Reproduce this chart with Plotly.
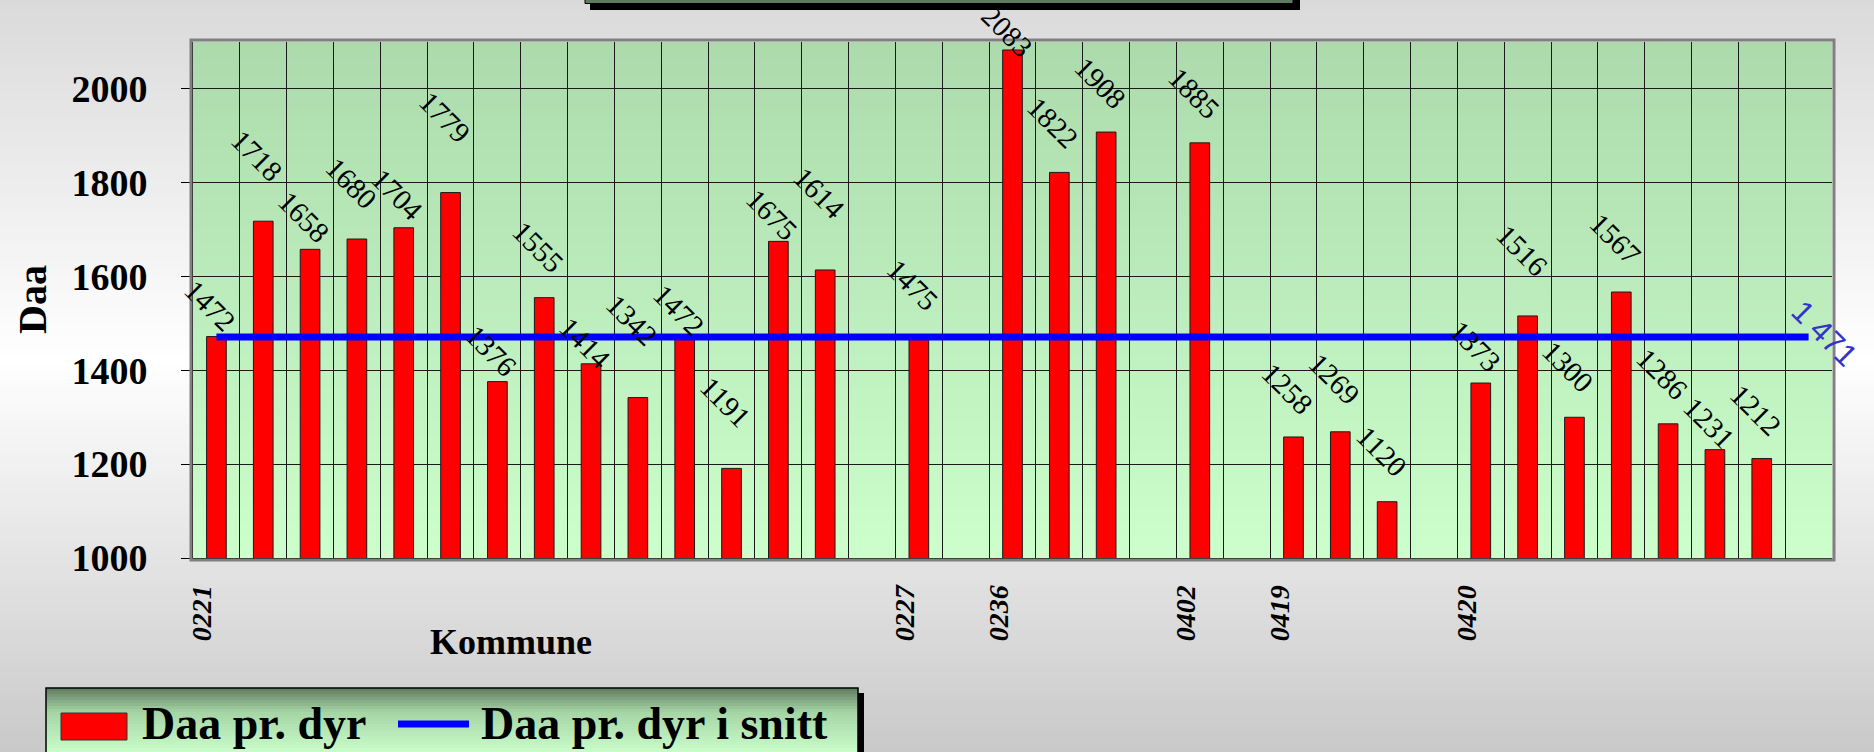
import plotly.graph_objects as go

# ---------------- data ----------------
categories = ["0221", "", "", "", "", "", "", "", "", "", "", "", "", "", "",
              "0227", "", "0236", "", "", "", "0402", "", "0419", "", "", "",
              "0420", "", "", "", "", "", "", ""]
values = [1472, 1718, 1658, 1680, 1704, 1779, 1376, 1555, 1414, 1342, 1472, 1191,
          1675, 1614, None, 1475, None, 2083, 1822, 1908, None, 1885, None, 1258,
          1269, 1120, None, 1373, 1516, 1300, 1567, 1286, 1231, 1212, None]
average_value = 1471
average_text = "1 471"
bar_name = "Daa pr. dyr"
line_name = "Daa pr. dyr i snitt"
y_axis_title = "Daa"
x_axis_title = "Kommune"
y_ticks = [1000, 1200, 1400, 1600, 1800, 2000]

# ---------------- style ----------------
W, H = 1874, 752
L, R, T, B = 193, 1832, 42, 558
SERIF = "Liberation Serif, Times New Roman, serif"
SANS = "Liberation Sans, Arial, sans-serif"
# pixel lift of each value label above its bar (as placed in the original chart)
label_lift_px = [0, 35, 2, 25, 2, 45, 0, 20, -10, 47, -4, 36, -4, 46, 0, 20, 0, -12,
                 19, 18, 0, 19, 0, 17, 22, 20, 0, 6, 35, 20, 22, 19, -4, 18, 0]


def px_x(px):
    return (px - L) / (R - L)


def px_y(py):
    return (B - py) / (B - T)


def color_at(stops, p):
    if p <= stops[0][0]:
        c = stops[0][1]
    elif p >= stops[-1][0]:
        c = stops[-1][1]
    else:
        for (p0, c0), (p1, c1) in zip(stops[:-1], stops[1:]):
            if p0 <= p <= p1:
                t = (p - p0) / (p1 - p0)
                c = tuple(c0[k] + (c1[k] - c0[k]) * t for k in range(3))
                break
    return "rgb(%d,%d,%d)" % tuple(round(v) for v in c)


def bands(xa, xb, ytop, ybot, stops, step):
    out = []
    y = ytop
    while y < ybot:
        y2 = min(y + step, ybot)
        out.append(dict(type="rect", xref="paper", yref="paper",
                        x0=px_x(xa), x1=px_x(xb),
                        y0=px_y(min(y2 + 1, ybot)), y1=px_y(y),
                        fillcolor=color_at(stops, (y + y2) / 2),
                        line=dict(width=0), layer="below"))
        y = y2
    return out


shapes = []
# figure background gradient
shapes += bands(0, W, 0, H, [(0, (218, 218, 218)), (360, (255, 255, 255)),
                             (752, (201, 201, 201))], 6)
# plot-area gradient
shapes += bands(L, R, T, B, [(T, (172, 218, 172)), (B, (204, 255, 204))], 5)

# title box remnant at top (shadow + box)
shapes.append(dict(type="rect", xref="paper", yref="paper", x0=px_x(590), x1=px_x(1300),
                   y0=px_y(10), y1=px_y(-10), fillcolor="#000000", line=dict(width=0),
                   layer="below"))
shapes.append(dict(type="rect", xref="paper", yref="paper", x0=px_x(585), x1=px_x(1293),
                   y0=px_y(3.5), y1=px_y(-10), fillcolor="#5f7c5f",
                   line=dict(color="#000000", width=1), layer="below"))

# legend box: shadow, gradient, border
LG_X0, LG_X1, LG_Y0, LG_Y1 = 46, 858, 688, 770
shapes.append(dict(type="rect", xref="paper", yref="paper", x0=px_x(LG_X0 + 6), x1=px_x(LG_X1 + 6),
                   y0=px_y(LG_Y1 + 6), y1=px_y(LG_Y0 + 5), fillcolor="#000000",
                   line=dict(width=0), layer="below"))
shapes += bands(LG_X0, LG_X1, LG_Y0, LG_Y1, [(688, (96, 124, 96)), (712, (165, 212, 165)),
                                             (752, (202, 252, 202))], 3)
shapes.append(dict(type="rect", xref="paper", yref="paper", x0=px_x(LG_X0), x1=px_x(LG_X1),
                   y0=px_y(LG_Y1), y1=px_y(LG_Y0), fillcolor="rgba(0,0,0,0)",
                   line=dict(color="#000000", width=1.5), layer="above"))
# legend keys
shapes.append(dict(type="rect", xref="paper", yref="paper", x0=px_x(61), x1=px_x(127),
                   y0=px_y(740), y1=px_y(713), fillcolor="#ff0000",
                   line=dict(color="#333333", width=1), layer="above"))
shapes.append(dict(type="line", xref="paper", yref="paper", x0=px_x(398), x1=px_x(469),
                   y0=px_y(724), y1=px_y(724), line=dict(color="#0000ff", width=7),
                   layer="above"))

# plot area border
shapes.append(dict(type="rect", xref="paper", yref="paper", x0=px_x(L - 2), x1=px_x(R + 2),
                   y0=px_y(B + 2), y1=px_y(T - 2), fillcolor="rgba(0,0,0,0)",
                   line=dict(color="#808080", width=3), layer="above"))

xs = list(range(len(categories)))

fig = go.Figure()
fig.add_bar(x=xs, y=values, width=0.42, name=bar_name, showlegend=False,
            marker=dict(color="#ff0000", line=dict(color="#1a1a1a", width=1)))
fig.add_scatter(x=xs, y=[average_value] * len(xs), mode="lines", name=line_name,
                showlegend=False, line=dict(color="#0000ff", width=7))

annotations = []
for i, v in enumerate(values):
    if v is None:
        continue
    annotations.append(dict(x=i, y=v, xref="x", yref="y", text=str(v), textangle=45,
                            showarrow=False, xanchor="center", yanchor="bottom",
                            xshift=-6, yshift=label_lift_px[i] - 4,
                            font=dict(family=SERIF, size=29, color="#000000")))
# average label
annotations.append(dict(x=xs[-1], y=average_value, xref="x", yref="y", text=average_text,
                        textangle=45, showarrow=False, xanchor="center", yanchor="middle",
                        xshift=16, yshift=4,
                        font=dict(family=SANS, size=31, color="#3333cc")))
# axis titles
annotations.append(dict(x=px_x(32), y=px_y(300), xref="paper", yref="paper", text=y_axis_title,
                        textangle=-90, showarrow=False, xanchor="center", yanchor="middle",
                        font=dict(family=SERIF, size=40, color="#000000", weight="bold")))
annotations.append(dict(x=px_x(511), y=px_y(642), xref="paper", yref="paper", text=x_axis_title,
                        showarrow=False, xanchor="center", yanchor="middle",
                        font=dict(family=SERIF, size=36, color="#000000", weight="bold")))
# legend texts
annotations.append(dict(x=px_x(140), y=px_y(723), xref="paper", yref="paper", text=bar_name,
                        showarrow=False, xanchor="left", yanchor="middle",
                        font=dict(family=SERIF, size=46, color="#000000", weight="bold")))
annotations.append(dict(x=px_x(479), y=px_y(723), xref="paper", yref="paper", text=line_name,
                        showarrow=False, xanchor="left", yanchor="middle",
                        font=dict(family=SERIF, size=46, color="#000000", weight="bold")))

tick_idx = [i for i, c in enumerate(categories) if c]
tick_txt = [categories[i] for i in tick_idx]

fig.update_layout(
    width=W, height=H,
    margin=dict(l=L, r=W - R, t=T, b=H - B, pad=0),
    paper_bgcolor="#e6e6e6",
    plot_bgcolor="rgba(0,0,0,0)",
    showlegend=False,
    shapes=shapes,
    annotations=annotations,
)
fig.update_xaxes(
    range=[-0.5, len(categories) - 0.5],
    tickmode="array", tickvals=tick_idx, ticktext=tick_txt, tickangle=-90,
    tickfont=dict(family=SERIF, size=28, color="#000000", weight="bold", style="italic"),
    ticks="", showgrid=False, zeroline=False,
    showline=True, linecolor="#000000", linewidth=1,
    ticklabelshift=-14, ticklabelstandoff=15,
    minor=dict(tickmode="array", tickvals=[i - 0.5 for i in range(len(categories) + 1)],
               showgrid=True, gridcolor="#1a1a1a", gridwidth=1, ticks=""),
)
fig.update_yaxes(
    range=[1000, 2100],
    tickmode="array", tickvals=y_ticks,
    ticks="outside", ticklen=11, tickcolor="#000000", tickwidth=1,
    showgrid=True, gridcolor="#1a1a1a", gridwidth=1, zeroline=False,
    showline=True, linecolor="#000000", linewidth=1,
    tickfont=dict(family=SERIF, size=38, color="#000000", weight="bold"),
    ticklabelstandoff=26,
)

fig.write_html("out.html",
               config={"displayModeBar": False},
               post_script="document.body.style.margin='0px';"
                           "document.body.style.overflow='hidden';")
